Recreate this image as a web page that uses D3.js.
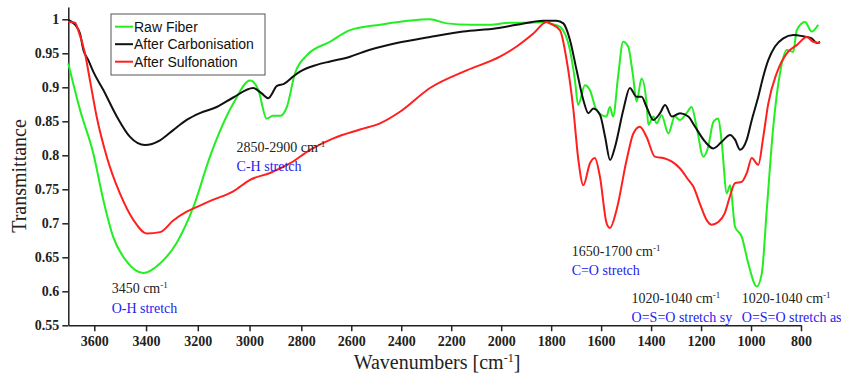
<!doctype html>
<html>
<head>
<script src="https://d3js.org/d3.v7.min.js"></script>
<style>
  body { margin: 0; background: #fff; }
  .axis path, .axis line { stroke: #222; stroke-width: 1.5; }
</style>
</head>
<body>
<svg width="841" height="376"></svg>
<script>
// values: [wavenumber, transmittance]
var rawFiber = [
  [3700,0.935],[3655,0.867],[3604,0.803],[3565,0.734],[3527,0.680],[3475,0.644],[3411,0.627],[3346,0.641],
  [3282,0.671],[3217,0.724],[3153,0.798],[3063,0.876],[2998,0.910],[2966,0.896],[2934,0.854],[2910,0.858],
  [2882,0.858],[2856,0.871],[2824,0.921],[2778,0.947],[2685,0.967],[2605,0.984],[2485,0.992],[2285,1.0],
  [2218,0.994],[2125,0.992],[2045,0.992],[1965,0.995],[1885,0.995],[1818,0.996],[1805,0.994],[1765,0.989],
  [1725,0.955],[1705,0.911],[1692,0.874],[1665,0.903],[1645,0.896],[1619,0.867],[1579,0.857],[1565,0.871],
  [1552,0.857],[1532,0.916],[1512,0.967],[1492,0.960],[1472,0.916],[1458,0.879],[1438,0.913],[1418,0.876],
  [1411,0.845],[1391,0.857],[1378,0.847],[1358,0.859],[1331,0.832],[1305,0.857],[1285,0.852],[1258,0.862],
  [1238,0.871],[1218,0.842],[1191,0.798],[1171,0.813],[1151,0.849],[1131,0.854],[1117,0.818],[1097,0.744],
  [1084,0.756],[1064,0.695],[1037,0.680],[1011,0.641],[977,0.607],[957,0.626],[937,0.720],[911,0.842],
  [884,0.921],[857,0.955],[831,0.952],[817,0.984],[784,0.996],[757,0.982],[731,0.992]
];
var carbonised = [
  [3700,0.999],[3674,0.992],[3655,0.979],[3642,0.955],[3623,0.940],[3604,0.923],[3565,0.896],[3513,0.857],
  [3462,0.827],[3404,0.815],[3346,0.822],[3295,0.837],[3243,0.852],[3192,0.862],[3127,0.871],[3063,0.885],
  [2986,0.899],[2953,0.891],[2928,0.884],[2894,0.902],[2867,0.905],[2831,0.916],[2805,0.923],[2738,0.933],
  [2685,0.938],[2605,0.945],[2552,0.952],[2418,0.965],[2285,0.974],[2152,0.982],[2018,0.987],[1938,0.992],
  [1831,0.998],[1778,0.998],[1751,0.994],[1725,0.970],[1698,0.925],[1671,0.881],[1651,0.862],[1631,0.869],
  [1604,0.859],[1584,0.827],[1564,0.793],[1544,0.813],[1511,0.867],[1485,0.899],[1458,0.886],[1438,0.886],
  [1418,0.871],[1391,0.852],[1364,0.862],[1344,0.874],[1317,0.857],[1284,0.862],[1251,0.857],[1224,0.842],
  [1184,0.820],[1151,0.810],[1117,0.820],[1084,0.830],[1064,0.823],[1044,0.808],[1017,0.823],[997,0.852],
  [971,0.886],[951,0.916],[931,0.940],[904,0.960],[871,0.972],[831,0.977],[791,0.975],[757,0.972],
  [737,0.965],[724,0.967]
];
var sulfonated = [
  [3700,0.996],[3674,0.995],[3662,0.984],[3636,0.950],[3617,0.911],[3591,0.857],[3552,0.798],[3501,0.744],
  [3449,0.705],[3397,0.685],[3346,0.687],[3295,0.704],[3243,0.717],[3192,0.726],[3145,0.734],[3063,0.747],
  [2998,0.764],[2921,0.774],[2844,0.788],[2765,0.808],[2672,0.825],[2565,0.838],[2485,0.847],[2405,0.864],
  [2285,0.899],[2138,0.925],[2005,0.945],[1938,0.960],[1871,0.979],[1818,0.996],[1805,0.994],[1765,0.984],
  [1738,0.940],[1711,0.867],[1691,0.793],[1671,0.756],[1645,0.788],[1625,0.796],[1605,0.769],[1578,0.700],
  [1565,0.693],[1538,0.720],[1498,0.793],[1471,0.832],[1445,0.842],[1418,0.827],[1385,0.798],[1351,0.796],
  [1318,0.791],[1285,0.781],[1251,0.764],[1231,0.754],[1205,0.729],[1178,0.705],[1158,0.698],[1131,0.702],
  [1105,0.715],[1085,0.739],[1064,0.759],[1037,0.761],[1017,0.774],[997,0.796],[971,0.786],[951,0.827],
  [931,0.876],[897,0.921],[857,0.950],[817,0.962],[777,0.974],[751,0.967],[724,0.965]
];

var seriesNames = ["Raw Fiber", "After Carbonisation", "After Sulfonation"];
var seriesColors = ["#22ee22", "#111111", "#ff1f1f"];
var xTicks = [3600,3400,3200,3000,2800,2600,2400,2200,2000,1800,1600,1400,1200,1000,800];
var yTicks = [0.55,0.6,0.65,0.7,0.75,0.8,0.85,0.9,0.95,1];

// peak notes: [wavenumber, transmittance, first line, second line]
var notes = [
  [3533, 0.5975, "3450 cm", "O-H stretch"],
  [3050, 0.805, "2850-2900 cm", "C-H stretch"],
  [1718, 0.652, "1650-1700 cm", "C=O stretch"],
  [1478, 0.583, "1020-1040 cm", "O=S=O stretch sy"],
  [1037, 0.583, "1020-1040 cm", "O=S=O stretch as"]
];

var svg = d3.select("svg");
var serif = '"Liberation Serif", "Times New Roman", serif';
var sans = '"Liberation Sans", Arial, sans-serif';

// the original axis is a little wider per 200 on the left part
var x = d3.scaleLinear().domain([3700, 3600, 2800, 800]).range([68.3, 94.3, 301.3, 801]);
var y = d3.scaleLinear().domain([0.55, 1.018]).range([325.3, 7.06]);

var xAxis = svg.append("g")
  .attr("class", "axis")
  .attr("transform", "translate(0," + y(0.55) + ")")
  .call(d3.axisBottom(x).tickValues(xTicks).tickSize(6).tickPadding(5).tickSizeOuter(0)
    .tickFormat(d3.format("d")));

var yAxis = svg.append("g")
  .attr("class", "axis")
  .attr("transform", "translate(" + x(3700) + ",0)")
  .call(d3.axisLeft(y).tickValues(yTicks).tickSize(6).tickPadding(3).tickSizeOuter(0)
    .tickFormat(function (d) { return String(d); }));

[xAxis, yAxis].forEach(function (a) {
  a.selectAll("text")
    .style("font-family", serif)
    .style("font-weight", "bold")
    .style("font-size", "14px")
    .style("fill", "#222");
});

var line = d3.line()
  .x(function (d) { return x(d[0]); })
  .y(function (d) { return y(d[1]); })
  .curve(d3.curveMonotoneX);

[rawFiber, carbonised, sulfonated].forEach(function (s, i) {
  svg.append("path")
    .datum(s)
    .attr("d", line)
    .style("fill", "none")
    .style("stroke", seriesColors[i])
    .style("stroke-width", 2)
    .style("stroke-linejoin", "round");
});

// legend
var lg = svg.append("g").attr("transform", "translate(111,14)");
lg.append("rect")
  .attr("width", 154).attr("height", 61)
  .style("fill", "#fff").style("stroke", "#555").style("stroke-width", 1);
seriesNames.forEach(function (n, i) {
  var cy = 12.7 + i * 17.5;
  lg.append("line")
    .attr("x1", 4).attr("x2", 22).attr("y1", cy).attr("y2", cy)
    .style("stroke", seriesColors[i]).style("stroke-width", 2);
  lg.append("text")
    .attr("x", 23).attr("y", cy + 5)
    .style("font-family", sans).style("font-size", "14px").style("fill", "#111")
    .text(n);
});

// peak notes
notes.forEach(function (d) {
  var t = svg.append("text")
    .attr("x", x(d[0])).attr("y", y(d[1]))
    .style("font-family", serif).style("font-size", "14px").style("fill", "#222");
  t.append("tspan").text(d[2]);
  t.append("tspan").attr("dy", -5).style("font-size", "9px").text("-1");
  svg.append("text")
    .attr("x", x(d[0])).attr("y", y(d[1]) + 19.5)
    .style("font-family", serif).style("font-size", "14px").style("fill", "#2222ee")
    .text(d[3]);
});

// axis titles
var xl = svg.append("text")
  .attr("x", 437).attr("y", 369)
  .attr("text-anchor", "middle")
  .style("font-family", serif).style("font-size", "20px").style("fill", "#222");
xl.append("tspan").text("Wavenumbers [cm");
xl.append("tspan").attr("dy", -7).style("font-size", "12px").text("-1");
xl.append("tspan").attr("dy", 7).text("]");

svg.append("text")
  .attr("transform", "translate(26,176)rotate(-90)")
  .attr("text-anchor", "middle")
  .style("font-family", serif).style("font-size", "20px").style("fill", "#222")
  .text("Transmittance");
</script>
</body>
</html>
